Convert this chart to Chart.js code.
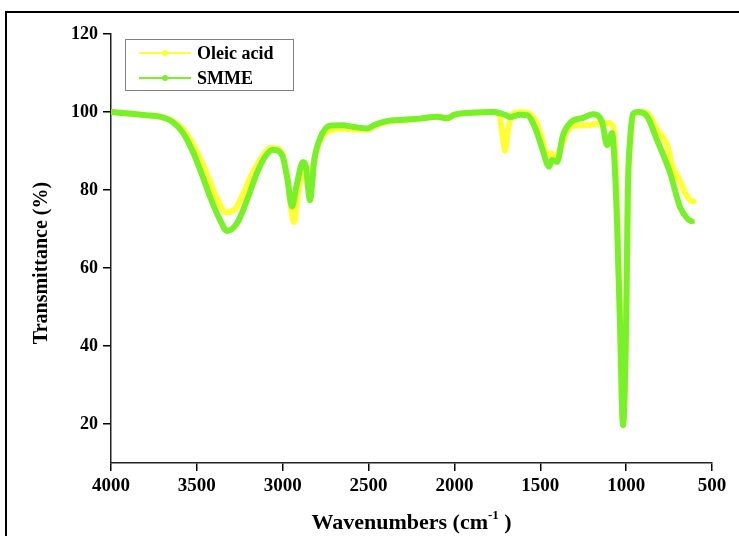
<!DOCTYPE html>
<html>
<head>
<meta charset="utf-8">
<script src="https://cdn.jsdelivr.net/npm/chart.js@4.4.1/dist/chart.umd.min.js"></script>
<style>
html, body { margin: 0; padding: 0; background: #fff; }
#wrap { width: 739px; height: 536px; position: relative; }
</style>
</head>
<body>
<div id="wrap"><canvas id="ftir"></canvas></div>
<script>
// FTIR spectra, wavenumber (cm-1) vs transmittance (%)
const oleicWave = [4000, 3900, 3800, 3715, 3640, 3580, 3520, 3465, 3423, 3380, 3330, 3280, 3230, 3180, 3120, 3074, 3030, 3000, 2970, 2934, 2910, 2870, 2853, 2830, 2790, 2725, 2650, 2590, 2509, 2460, 2400, 2300, 2200, 2100, 2043, 2000, 1900, 1775, 1740, 1720, 1705, 1690, 1660, 1606, 1560, 1520, 1490, 1460, 1440, 1420, 1380, 1340, 1300, 1220, 1180, 1140, 1100, 1075, 1060, 1050, 1036, 1018, 1000, 990, 975, 955, 915, 880, 820, 762, 730, 698, 660, 628, 600];
const oleicT = [100, 99.6, 99.2, 98.8, 97.6, 95.5, 91.5, 86.5, 82, 77.5, 74.3, 75, 79, 84, 88.5, 90.8, 90.6, 89, 82, 71.8, 80, 86, 80.5, 85, 92, 95.2, 95.8, 95.5, 95.5, 96.5, 97.4, 97.9, 98.3, 98.8, 98.4, 99.3, 99.8, 100, 99.5, 94, 90, 95, 99.5, 100, 99.5, 97, 93, 89, 89.5, 88, 91, 95.5, 96.5, 96.6, 97, 97, 97.2, 96, 85, 71, 46, 20.5, 46, 80, 93, 99.5, 100, 99.8, 95.5, 91.5, 86, 83.3, 79.5, 77.4, 77];

const smmeWave = [4000, 3900, 3800, 3715, 3640, 3580, 3520, 3465, 3423, 3365, 3324, 3266, 3208, 3150, 3103, 3057, 3004, 2975, 2946, 2920, 2882, 2865, 2841, 2815, 2780, 2725, 2650, 2590, 2509, 2460, 2400, 2300, 2200, 2100, 2043, 2000, 1900, 1775, 1700, 1676, 1618, 1577, 1531, 1490, 1449, 1432, 1402, 1368, 1327, 1251, 1193, 1140, 1111, 1082, 1065, 1053, 1036, 1018, 1000, 990, 977, 960, 931, 880, 820, 744, 686, 640, 610];
const smmeT = [100, 99.6, 99.2, 98.8, 97.4, 94.6, 89.5, 83.3, 78.2, 72.3, 69.5, 71.5, 77.4, 84.4, 88.5, 90.3, 89, 83.5, 75.8, 81, 87.2, 86, 77.4, 88, 93.5, 96.5, 96.6, 96.2, 95.8, 96.8, 97.6, 98, 98.3, 98.8, 98.4, 99.3, 99.8, 100, 99.2, 98.7, 99.3, 99.2, 96, 90.8, 86, 87.7, 87.2, 94, 97.2, 98.5, 99.4, 97.4, 91.5, 94.6, 85, 71.5, 46, 19.7, 46, 80, 92.8, 99.5, 100, 99, 92.8, 84.4, 75.6, 72.5, 71.8];

const xTicks = [4000, 3500, 3000, 2500, 2000, 1500, 1000, 500];
const yTicks = [20, 40, 60, 80, 100, 120];

const seriesNames = ['Oleic acid', 'SMME'];
const seriesColors = ['#ffff33', '#78f02a'];

function toPoints(wave, t) {
    return wave.map((w, i) => ({ x: w, y: t[i] }));
}

const serif = "'Liberation Serif', 'Times New Roman', serif";

// frame, legend box and axis titles (x title has a superscript)
const extras = {
    id: 'extras',
    afterDraw(chart) {
        const ctx = chart.ctx;
        ctx.save();
        ctx.fillStyle = '#000';
        ctx.fillRect(5, 11, 739 - 5, 2);
        ctx.fillRect(5, 11, 2, 536 - 11);

        // legend
        ctx.strokeStyle = '#808080';
        ctx.lineWidth = 1;
        ctx.strokeRect(125.5, 39.5, 168, 51);
        const rows = [53, 78];
        rows.forEach((y, i) => {
            ctx.strokeStyle = seriesColors[i];
            ctx.lineWidth = 2;
            ctx.beginPath();
            ctx.moveTo(139, y);
            ctx.lineTo(191, y);
            ctx.stroke();
            ctx.fillStyle = seriesColors[i];
            ctx.beginPath();
            ctx.arc(165, y, 3, 0, Math.PI * 2);
            ctx.fill();
            ctx.fillStyle = '#000';
            ctx.font = 'bold 18px ' + serif;
            ctx.textBaseline = 'middle';
            ctx.textAlign = 'left';
            ctx.fillText(seriesNames[i], 197, y + 1);
        });

        // y axis title
        ctx.save();
        ctx.translate(42, 263);
        ctx.rotate(-Math.PI / 2);
        ctx.font = 'bold 20px ' + serif;
        ctx.textAlign = 'center';
        ctx.textBaseline = 'middle';
        ctx.fillText('Transmittance (%)', 0, 0);
        ctx.restore();

        // x axis title
        const a = chart.chartArea;
        const cx = (a.left + a.right) / 2;
        const base = 529;
        const main = 'Wavenumbers (cm';
        const sup = '-1';
        const end = ' )';
        ctx.font = 'bold 22px ' + serif;
        const w1 = ctx.measureText(main).width;
        const w3 = ctx.measureText(end).width;
        ctx.font = 'bold 13px ' + serif;
        const w2 = ctx.measureText(sup).width;
        let x = cx - (w1 + w2 + w3) / 2;
        ctx.textBaseline = 'alphabetic';
        ctx.textAlign = 'left';
        ctx.fillStyle = '#000';
        ctx.font = 'bold 22px ' + serif;
        ctx.fillText(main, x, base);
        ctx.font = 'bold 13px ' + serif;
        ctx.fillText(sup, x + w1, base - 10);
        ctx.font = 'bold 22px ' + serif;
        ctx.fillText(end, x + w1 + w2, base);
        ctx.restore();
    }
};

const ctxFtir = document.getElementById('ftir');

const ftirChart = new Chart(ctxFtir, {
    type: 'line',
    data: {
        datasets: [{
            label: seriesNames[0],
            data: toPoints(oleicWave, oleicT),
            borderColor: seriesColors[0],
            backgroundColor: seriesColors[0],
            borderWidth: 6,
            pointRadius: 2,
            pointBorderWidth: 0,
            cubicInterpolationMode: 'monotone',
            order: 1
        }, {
            label: seriesNames[1],
            data: toPoints(smmeWave, smmeT),
            borderColor: seriesColors[1],
            backgroundColor: seriesColors[1],
            borderWidth: 6,
            pointRadius: 2,
            pointBorderWidth: 0,
            cubicInterpolationMode: 'monotone',
            order: 0
        }]
    },
    options: {
        responsive: true,
        maintainAspectRatio: false,
        animation: false,
        layout: {
            padding: { top: 34, right: 27, left: 0, bottom: 0 }
        },
        plugins: {
            legend: { display: false },
            tooltip: { enabled: false }
        },
        scales: {
            x: {
                type: 'linear',
                reverse: true,
                min: 500,
                max: 4000,
                afterFit: s => { s.height = 73; },
                afterBuildTicks: s => { s.ticks = xTicks.map(v => ({ value: v })); },
                ticks: {
                    color: '#000',
                    padding: 4,
                    maxRotation: 0,
                    callback: v => String(v),
                    font: { family: serif, size: 19, weight: 'bold' }
                },
                grid: {
                    display: true,
                    drawOnChartArea: false,
                    drawTicks: true,
                    tickLength: 8,
                    color: '#000',
                    lineWidth: 1.5
                },
                border: { display: true, color: '#222', width: 1.5 }
            },
            y: {
                min: 10,
                max: 120,
                afterFit: s => { s.width = 111; },
                afterBuildTicks: s => { s.ticks = yTicks.map(v => ({ value: v })); },
                ticks: {
                    color: '#000',
                    padding: 5,
                    callback: v => String(v),
                    font: { family: serif, size: 18, weight: 'bold' }
                },
                grid: {
                    display: true,
                    drawOnChartArea: false,
                    drawTicks: true,
                    tickLength: 8,
                    color: '#000',
                    lineWidth: 1.5
                },
                border: { display: true, color: '#222', width: 1.5 }
            }
        }
    },
    plugins: [extras]
});
</script>
</body>
</html>
